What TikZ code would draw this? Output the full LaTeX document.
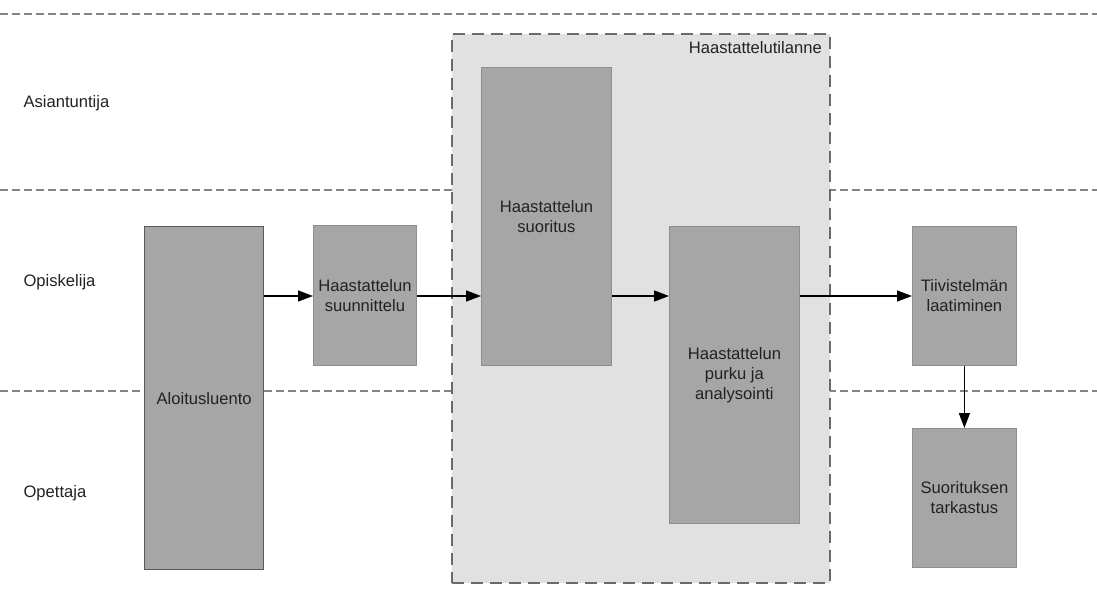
\documentclass[tikz,border=0pt]{standalone}
\usepackage{fontspec}
\setmainfont{Liberation Sans}
\usetikzlibrary{arrows.meta}
\definecolor{boxfill}{HTML}{A6A6A6}
\definecolor{boxline}{HTML}{8E8E8E}
\definecolor{darkline}{HTML}{5A5A5A}
\definecolor{groupfill}{HTML}{E1E1E1}
\definecolor{groupline}{HTML}{6A6A6A}
\definecolor{laneline}{HTML}{848484}
\definecolor{txt}{HTML}{222222}
\tikzset{
  x=1pt, y=-1pt,
  every node/.style={font=\fontsize{16.6}{20}\selectfont, text=txt},
  taskbox/.style={draw=boxline, line width=0.8pt, fill=boxfill, anchor=north west,
    inner sep=0pt, align=center},
  lanesep/.style={draw=laneline, line width=1.8pt, dash pattern=on 7.5pt off 4.5pt},
  arr/.style={draw=black, line width=1.4pt, -{Triangle[length=15pt,width=11pt]}},
  lanelabel/.style={anchor=west},
}
\begin{document}
\begin{tikzpicture}
\useasboundingbox (0,0) rectangle (1097,594);
\fill[white] (0,0) rectangle (1097,594);

% swimlane separators
\coordinate (l0a) at (0,14);   \coordinate (l0b) at (1097,14);
\coordinate (l1a) at (0,190);  \coordinate (l1b) at (1097,190);
\coordinate (l2a) at (0,391);  \coordinate (l2b) at (1097,391);
\draw[lanesep] (l0a) -- (l0b);
\draw[lanesep] (l1a) -- (l1b);
\draw[lanesep] (l2a) -- (l2b);

% lane names
\node[lanelabel] (asiantuntija) at (20,103) {Asiantuntija};
\node[lanelabel] (opiskelija) at (20,282) {Opiskelija};
\node[lanelabel] (opettaja) at (20,493) {Opettaja};

% interview session group
\node[draw=groupline, fill=groupfill, line width=1.6pt, dash pattern=on 12pt off 7pt,
      anchor=north west, minimum width=378pt, minimum height=549pt, inner sep=0pt]
      (tilanne) at (451,33) {};
\node[anchor=north east, inner sep=0pt] (tilannelabel) at (822,41) {Haastattelutilanne};

% tasks
\node[taskbox, draw=darkline, line width=1.3pt, minimum width=119pt, minimum height=343pt]
      (aloitus) at (144,226) {Aloitusluento};
\node[taskbox, minimum width=103pt, minimum height=140pt]
      (suunn) at (313,225) {Haastattelun\\suunnittelu};
\node[taskbox, minimum width=130pt, minimum height=298pt]
      (suor) at (481,67) {Haastattelun\\suoritus};
\node[taskbox, minimum width=130pt, minimum height=297pt]
      (purku) at (669,226) {Haastattelun\\purku ja\\analysointi};
\node[taskbox, minimum width=104pt, minimum height=139pt]
      (tiiv) at (912,226) {Tiivistelmän\\laatiminen};
\node[taskbox, minimum width=104pt, minimum height=139pt]
      (tark) at (912,428) {Suorituksen\\tarkastus};

% flow
\coordinate (flowy) at (0,296);
\draw[arr] (aloitus.east |- flowy) -- (suunn.west |- flowy);
\draw[arr] (suunn.east |- flowy) -- (suor.west |- flowy);
\draw[arr] (suor.east |- flowy) -- (purku.west |- flowy);
\draw[arr] (purku.east |- flowy) -- (tiiv.west |- flowy);
\draw[arr] (tiiv.south) -- (tark.north);
\end{tikzpicture}
\end{document}
